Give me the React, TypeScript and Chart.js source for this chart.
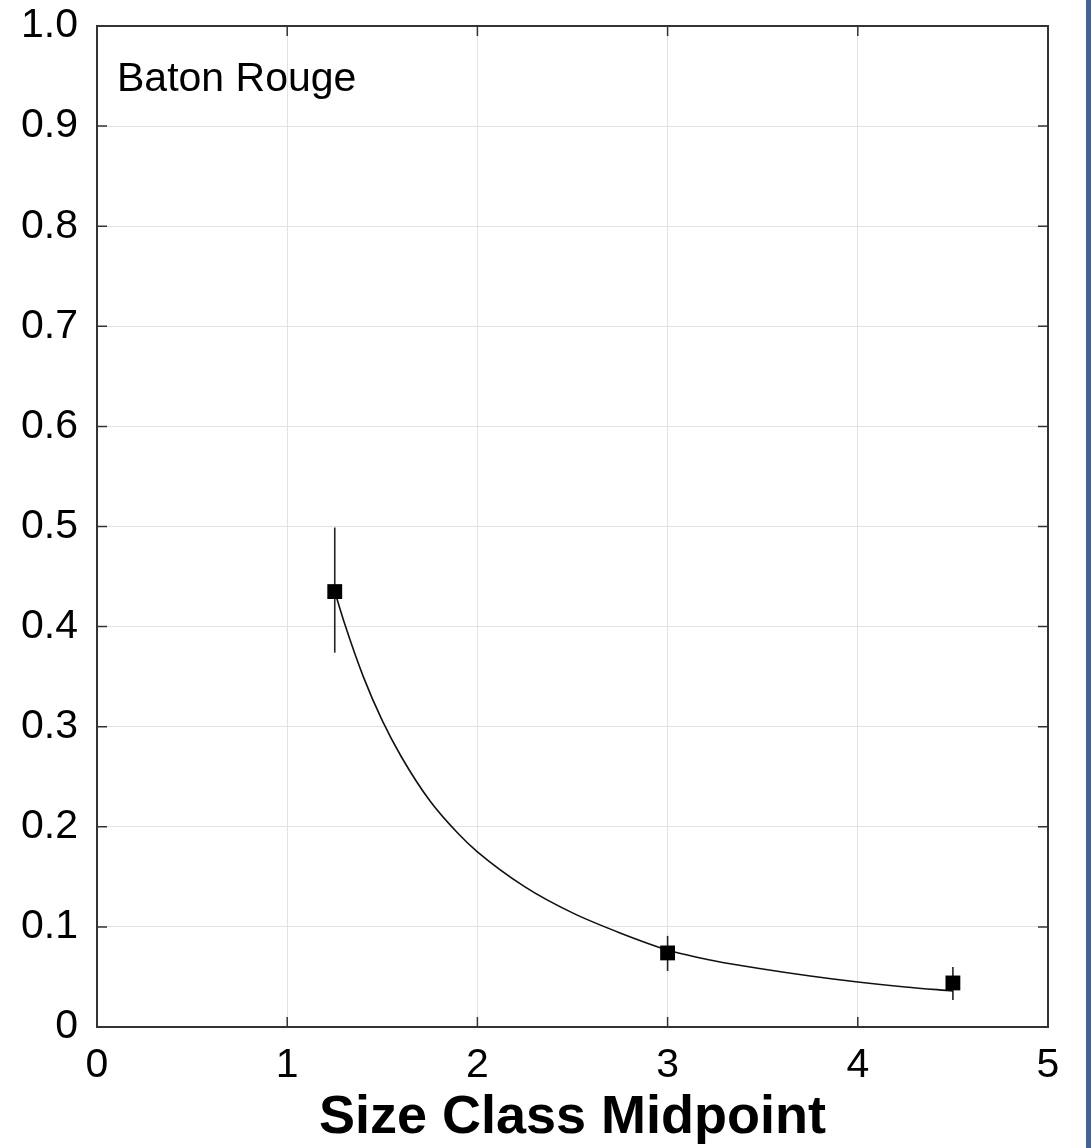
import React, { useEffect, useRef } from "react";
import { Chart, registerables } from "chart.js";

Chart.register(...registerables);

// ---- data ----
const pointX = [1.25, 3.0, 4.5];
const pointY = [0.435, 0.074, 0.044];
const errLow = [0.374, 0.056, 0.027];
const errHigh = [0.499, 0.091, 0.06];

const curveX = [1.25, 1.3, 1.4, 1.5, 1.6, 1.75, 1.9, 2.0, 2.25, 2.5, 2.75, 3.0, 3.25, 3.5, 3.75, 4.0, 4.25, 4.5];
const curveY = [0.435, 0.404, 0.35, 0.306, 0.27, 0.226, 0.193, 0.175, 0.14, 0.114, 0.094, 0.077, 0.066, 0.058, 0.051, 0.045, 0.04, 0.036];

const xTicks = [0, 1, 2, 3, 4, 5];
const xTickLabels = ["0", "1", "2", "3", "4", "5"];
const yTicks = [0, 0.1, 0.2, 0.3, 0.4, 0.5, 0.6, 0.7, 0.8, 0.9, 1.0];
const yTickLabels = ["0", "0.1", "0.2", "0.3", "0.4", "0.5", "0.6", "0.7", "0.8", "0.9", "1.0"];

const xTitle = "Size Class Midpoint";
const panelLabel = "Baton Rouge";

const FONT = "'Liberation Sans', Arial, Helvetica, sans-serif";

const decorPlugin = {
  id: "decor",
  beforeDatasetsDraw(chart: any) {
    const { ctx, scales } = chart;
    const xs = scales.x;
    const ys = scales.y;
    ctx.save();
    ctx.strokeStyle = "#222";
    ctx.lineWidth = 1.6;
    for (let i = 0; i < pointX.length; i++) {
      const px = xs.getPixelForValue(pointX[i]);
      ctx.beginPath();
      ctx.moveTo(px, ys.getPixelForValue(errLow[i]));
      ctx.lineTo(px, ys.getPixelForValue(errHigh[i]));
      ctx.stroke();
    }
    ctx.restore();
  },
  afterDraw(chart: any) {
    const { ctx, chartArea, scales } = chart;
    const { left, right, top, bottom } = chartArea;
    const xs = scales.x;
    const ys = scales.y;
    ctx.save();
    // inner ticks
    ctx.strokeStyle = "#333";
    ctx.lineWidth = 1.5;
    const tl = 10;
    for (const v of xTicks) {
      const px = xs.getPixelForValue(v);
      ctx.beginPath();
      ctx.moveTo(px, bottom);
      ctx.lineTo(px, bottom - tl);
      ctx.moveTo(px, top);
      ctx.lineTo(px, top + tl);
      ctx.stroke();
    }
    for (const v of yTicks) {
      const py = ys.getPixelForValue(v);
      ctx.beginPath();
      ctx.moveTo(left, py);
      ctx.lineTo(left + tl, py);
      ctx.moveTo(right, py);
      ctx.lineTo(right - tl, py);
      ctx.stroke();
    }
    // frame
    ctx.strokeStyle = "#333";
    ctx.lineWidth = 2;
    ctx.strokeRect(left, top, right - left, bottom - top);
    // panel label
    ctx.fillStyle = "#000";
    ctx.font = `41px ${FONT}`;
    ctx.textAlign = "left";
    ctx.textBaseline = "alphabetic";
    ctx.fillText(panelLabel, left + 20, top + 65);
    ctx.restore();
  },
};

export default function App() {
  const canvasRef = useRef<HTMLCanvasElement | null>(null);

  useEffect(() => {
    if (!canvasRef.current) return;
    const chart = new Chart(canvasRef.current, {
      type: "scatter",
      data: {
        datasets: [
          {
            type: "scatter",
            label: "points",
            data: pointX.map((x, i) => ({ x, y: pointY[i] })),
            pointStyle: "rect",
            pointRadius: 10.5,
            backgroundColor: "#000",
            borderColor: "#000",
            borderWidth: 0,
            order: 0,
          },
          {
            type: "line",
            label: "fit",
            data: curveX.map((x, i) => ({ x, y: curveY[i] })),
            borderColor: "#111",
            borderWidth: 1.6,
            pointRadius: 0,
            fill: false,
            cubicInterpolationMode: "monotone",
            order: 1,
          },
        ],
      },
      options: {
        animation: false,
        responsive: false,
        maintainAspectRatio: false,
        layout: { padding: { left: 0, right: 38, top: 26, bottom: 0 } },
        plugins: {
          legend: { display: false },
          tooltip: { enabled: false },
        },
        scales: {
          x: {
            type: "linear",
            min: 0,
            max: 5,
            afterBuildTicks: (s: any) => {
              s.ticks = xTicks.map((v) => ({ value: v }));
            },
            afterFit: (s: any) => {
              s.height = 121;
              s.paddingLeft = 0;
              s.paddingRight = 0;
            },
            ticks: {
              callback: (_v: any, i: number) => xTickLabels[i],
              font: { family: FONT, size: 41 },
              color: "#000",
              padding: 14,
              maxRotation: 0,
              autoSkip: false,
            },
            grid: { color: "#e2e2e2", lineWidth: 1, drawTicks: false },
            border: { display: false },
            title: {
              display: true,
              text: xTitle,
              font: { family: FONT, size: 54, weight: "bold", lineHeight: 1 },
              color: "#000",
              padding: { top: 0, bottom: 3 },
            },
          },
          y: {
            type: "linear",
            min: 0,
            max: 1,
            afterBuildTicks: (s: any) => {
              s.ticks = yTicks.map((v) => ({ value: v }));
            },
            afterFit: (s: any) => {
              s.width = 97;
              s.paddingTop = 0;
              s.paddingBottom = 0;
            },
            ticks: {
              callback: (_v: any, i: number) => yTickLabels[i],
              font: { family: FONT, size: 41 },
              color: "#000",
              padding: 19,
              autoSkip: false,
            },
            grid: { color: "#e2e2e2", lineWidth: 1, drawTicks: false },
            border: { display: false },
          },
        },
      },
      plugins: [decorPlugin],
    } as any);
    return () => chart.destroy();
  }, []);

  return (
    <div
      style={{
        position: "absolute",
        left: 0,
        top: 0,
        width: 1091,
        height: 1148,
        overflow: "hidden",
        background: "#fff",
      }}
    >
      <canvas ref={canvasRef} width={1086} height={1148} style={{ position: "absolute", left: 0, top: 0, width: 1086, height: 1148 }} />
      <div style={{ position: "absolute", left: 1086, top: 0, width: 5, height: 1148, background: "#3e6498" }} />
    </div>
  );
}
